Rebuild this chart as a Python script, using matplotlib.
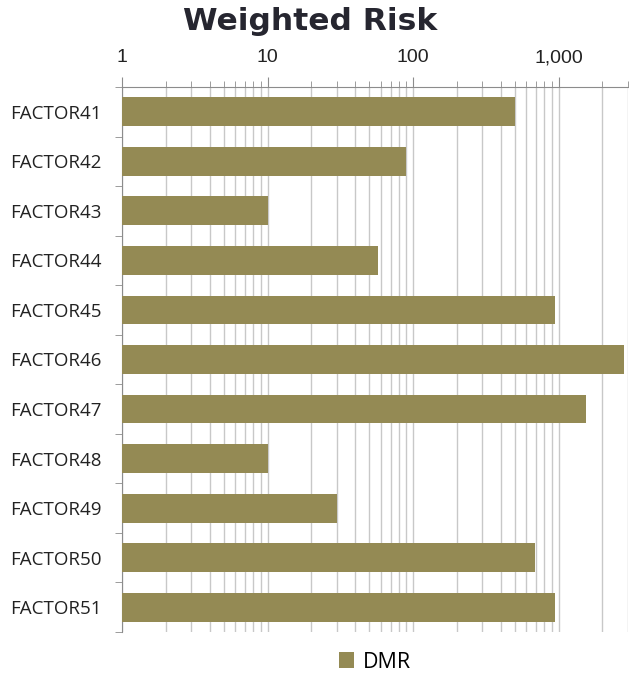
import numpy as np
import matplotlib
matplotlib.use("Agg")
from matplotlib import pyplot as plt
from matplotlib.ticker import FixedLocator, FuncFormatter, LogLocator, NullFormatter

factors = ['FACTOR41', 'FACTOR42', 'FACTOR43', 'FACTOR44', 'FACTOR45', 'FACTOR46',
           'FACTOR47', 'FACTOR48', 'FACTOR49', 'FACTOR50', 'FACTOR51']
dmr = [505, 90, 10, 57, 940, 2820, 1545, 10, 30, 693, 940]
series_name = 'DMR'

bar_color = '#948A54'
grid_color = '#C8C8C8'
spine_color = '#8C8C8C'

fig = plt.figure(figsize=(6.29, 6.77), dpi=100)
ax = fig.add_axes([122 / 629, 1 - 632 / 677, 506 / 629, 545 / 677])

y = np.arange(len(factors))
ax.barh(y, dmr, height=0.58, color=bar_color, label=series_name, zorder=3)

ax.set_xscale('log')
ax.set_xlim(1, 3000)
ax.set_ylim(len(factors) - 0.5, -0.5)

# x axis on top
ax.xaxis.set_ticks_position('top')
ax.xaxis.set_label_position('top')
ax.xaxis.set_major_locator(FixedLocator([1, 10, 100, 1000]))
ax.xaxis.set_minor_locator(LogLocator(base=10, subs=np.arange(2, 10)))
ax.xaxis.set_major_formatter(FuncFormatter(lambda v, p: f'{v:,.0f}'))
ax.xaxis.set_minor_formatter(NullFormatter())
ax.tick_params(axis='x', which='major', length=7, color=spine_color, labelsize=14,
               pad=8, labelcolor='#222222', labelfontfamily='Liberation Sans')
ax.tick_params(axis='x', which='minor', length=4, color=spine_color)
ax.grid(axis='x', which='both', color=grid_color, linewidth=1.0, zorder=0)

# y axis: labels at centres, tick marks between categories
ax.set_yticks(y)
ax.set_yticklabels(factors, fontsize=13.5, family='Open Sans', color='#222222')
ax.set_yticks(np.arange(-0.5, len(factors)), minor=True)
ax.tick_params(axis='y', which='major', length=0, pad=15)
ax.tick_params(axis='y', which='minor', length=5, color=spine_color)

for s in ['right', 'bottom']:
    ax.spines[s].set_visible(False)
for s in ['top', 'left']:
    ax.spines[s].set_color(spine_color)

fig.text(310 / 629, 1 - 22 / 677, 'Weighted Risk', ha='center', va='center',
         fontsize=22.6, fontweight='bold', color='#262630')

leg = fig.legend(loc='center', bbox_to_anchor=(375 / 629, 1 - 662 / 677), frameon=False,
                 handlelength=0.7, handleheight=0.7, handletextpad=0.4,
                 prop={'family': 'Open Sans', 'size': 15.5})

fig.savefig('out.png', dpi=100)
